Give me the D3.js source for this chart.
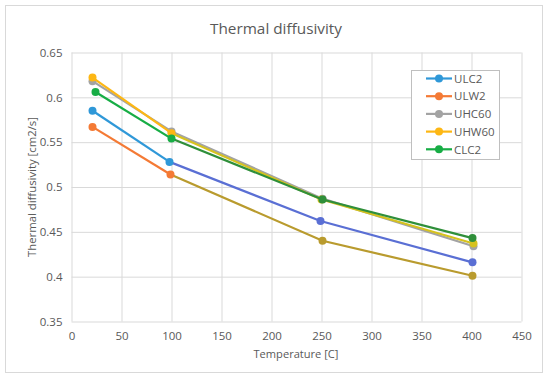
<!DOCTYPE html>
<html><head><meta charset="utf-8">
<script src="https://cdn.jsdelivr.net/npm/d3@7"></script>
<style>body{margin:0;background:#fff;} svg{display:block;} text{font-family:"Open Sans",sans-serif;fill:#595959;}</style>
</head><body>
<svg id="c" width="550" height="383"></svg>
<script>
const seriesNames = ["ULC2","ULW2","UHC60","UHW60","CLC2"];
const seriesColors = ["#2f98d8","#f47a35","#a3a3a3","#fdb714","#17ad45"];
const laterColors = ["#5a6fd4","#b99b2e","#a3a3a3","#d6c21e","#2f8f3a"];
const xULC2 = [21,98,249,401],  yULC2 = [0.585,0.528,0.462,0.416];
const xULW2 = [21,99,251,401],  yULW2 = [0.567,0.514,0.440,0.401];
const xUHC60 = [21,100,251,402], yUHC60 = [0.618,0.562,0.487,0.434];
const xUHW60 = [21,100,250,402], yUHW60 = [0.622,0.560,0.486,0.437];
const xCLC2 = [24,100,251,401],  yCLC2 = [0.606,0.554,0.486,0.443];
const xTicks = [0,50,100,150,200,250,300,350,400,450];
const yTicks = [0.35,0.4,0.45,0.5,0.55,0.6,0.65];
const yTickLabels = ["0.35","0.4","0.45","0.5","0.55","0.6","0.65"];

const xs = [xULC2,xULW2,xUHC60,xUHW60,xCLC2];
const ys = [yULC2,yULW2,yUHC60,yUHW60,yCLC2];
const series = seriesNames.map((n,i)=>({name:n,color:seriesColors[i],later:laterColors[i],
  pts:xs[i].map((x,j)=>({x:x,y:ys[i][j]}))}));

function fit(sel, target){
  const node = sel.node(); const fs = parseFloat(sel.attr("font-size"));
  const w = node.getComputedTextLength();
  sel.attr("font-size", (fs*target/w).toFixed(2)+"px");
  return sel;
}

const svg = d3.select("#c");
svg.append("rect").attr("x",5.5).attr("y",5.5).attr("width",537).attr("height",367)
  .attr("fill","#fff").attr("stroke","#d9d9d9");

const L=71.5,R=521.5,T=52.5,B=321.5;
const x = d3.scaleLinear().domain([0,450]).range([L,R]);
const y = d3.scaleLinear().domain([0.35,0.65]).range([B,T]);

const g = svg.append("g");
g.append("g").attr("transform",`translate(0,${B})`)
  .call(d3.axisBottom(x).tickValues(xTicks).tickSize(-(B-T)).tickFormat(d3.format("d")).tickPadding(10))
  .call(a=>{a.select(".domain").remove();a.selectAll("line").attr("stroke","#d9d9d9");
    a.selectAll("text").attr("font-size","11.5px").style("fill","#595959");});
g.append("g").attr("transform",`translate(${L},0)`)
  .call(d3.axisLeft(y).tickValues(yTicks).tickSize(-(R-L)).tickFormat((d,i)=>yTickLabels[i]).tickPadding(9))
  .call(a=>{a.select(".domain").remove();a.selectAll("line").attr("stroke","#d9d9d9");
    a.selectAll("text").attr("font-size","11.5px").style("fill","#595959");});

const line = d3.line().x(d=>x(d.x)).y(d=>y(d.y));
series.forEach(s=>{
  g.append("path").attr("d",line(s.pts.slice(0,2))).attr("fill","none")
    .attr("stroke",s.color).attr("stroke-width",2.2);
  g.append("path").attr("d",line(s.pts.slice(1))).attr("fill","none")
    .attr("stroke",s.later).attr("stroke-width",2.2);
  g.selectAll(null).data(s.pts).enter().append("circle")
    .attr("cx",d=>x(d.x)).attr("cy",d=>y(d.y)).attr("r",4)
    .attr("fill",(d,j)=>j<2?s.color:s.later);
});

fit(svg.append("text").attr("x",276).attr("y",33.5).attr("text-anchor","middle")
  .attr("font-size","16px").text("Thermal diffusivity"), 132);
fit(svg.append("text").attr("x",296).attr("y",358).attr("text-anchor","middle")
  .attr("font-size","12px").text("Temperature [C]"), 85);
fit(svg.append("text").attr("transform",`translate(36,187) rotate(-90)`).attr("text-anchor","middle")
  .attr("font-size","12px").text("Thermal diffusivity [cm2/s]"), 140);

const lg = svg.append("g");
lg.append("rect").attr("x",411.5).attr("y",70.5).attr("width",88).attr("height",89)
  .attr("fill","#fff").attr("stroke","#bfbfbf");
series.forEach((s,i)=>{
  const yy = 78.5 + i*17.7;
  lg.append("line").attr("x1",426).attr("x2",452).attr("y1",yy).attr("y2",yy)
    .attr("stroke",s.color).attr("stroke-width",2.2);
  lg.append("circle").attr("cx",439).attr("cy",yy).attr("r",4).attr("fill",s.color);
  lg.append("text").attr("x",454).attr("y",yy+4.2).attr("font-size","11.5px").text(s.name);
});
</script>
</body></html>
